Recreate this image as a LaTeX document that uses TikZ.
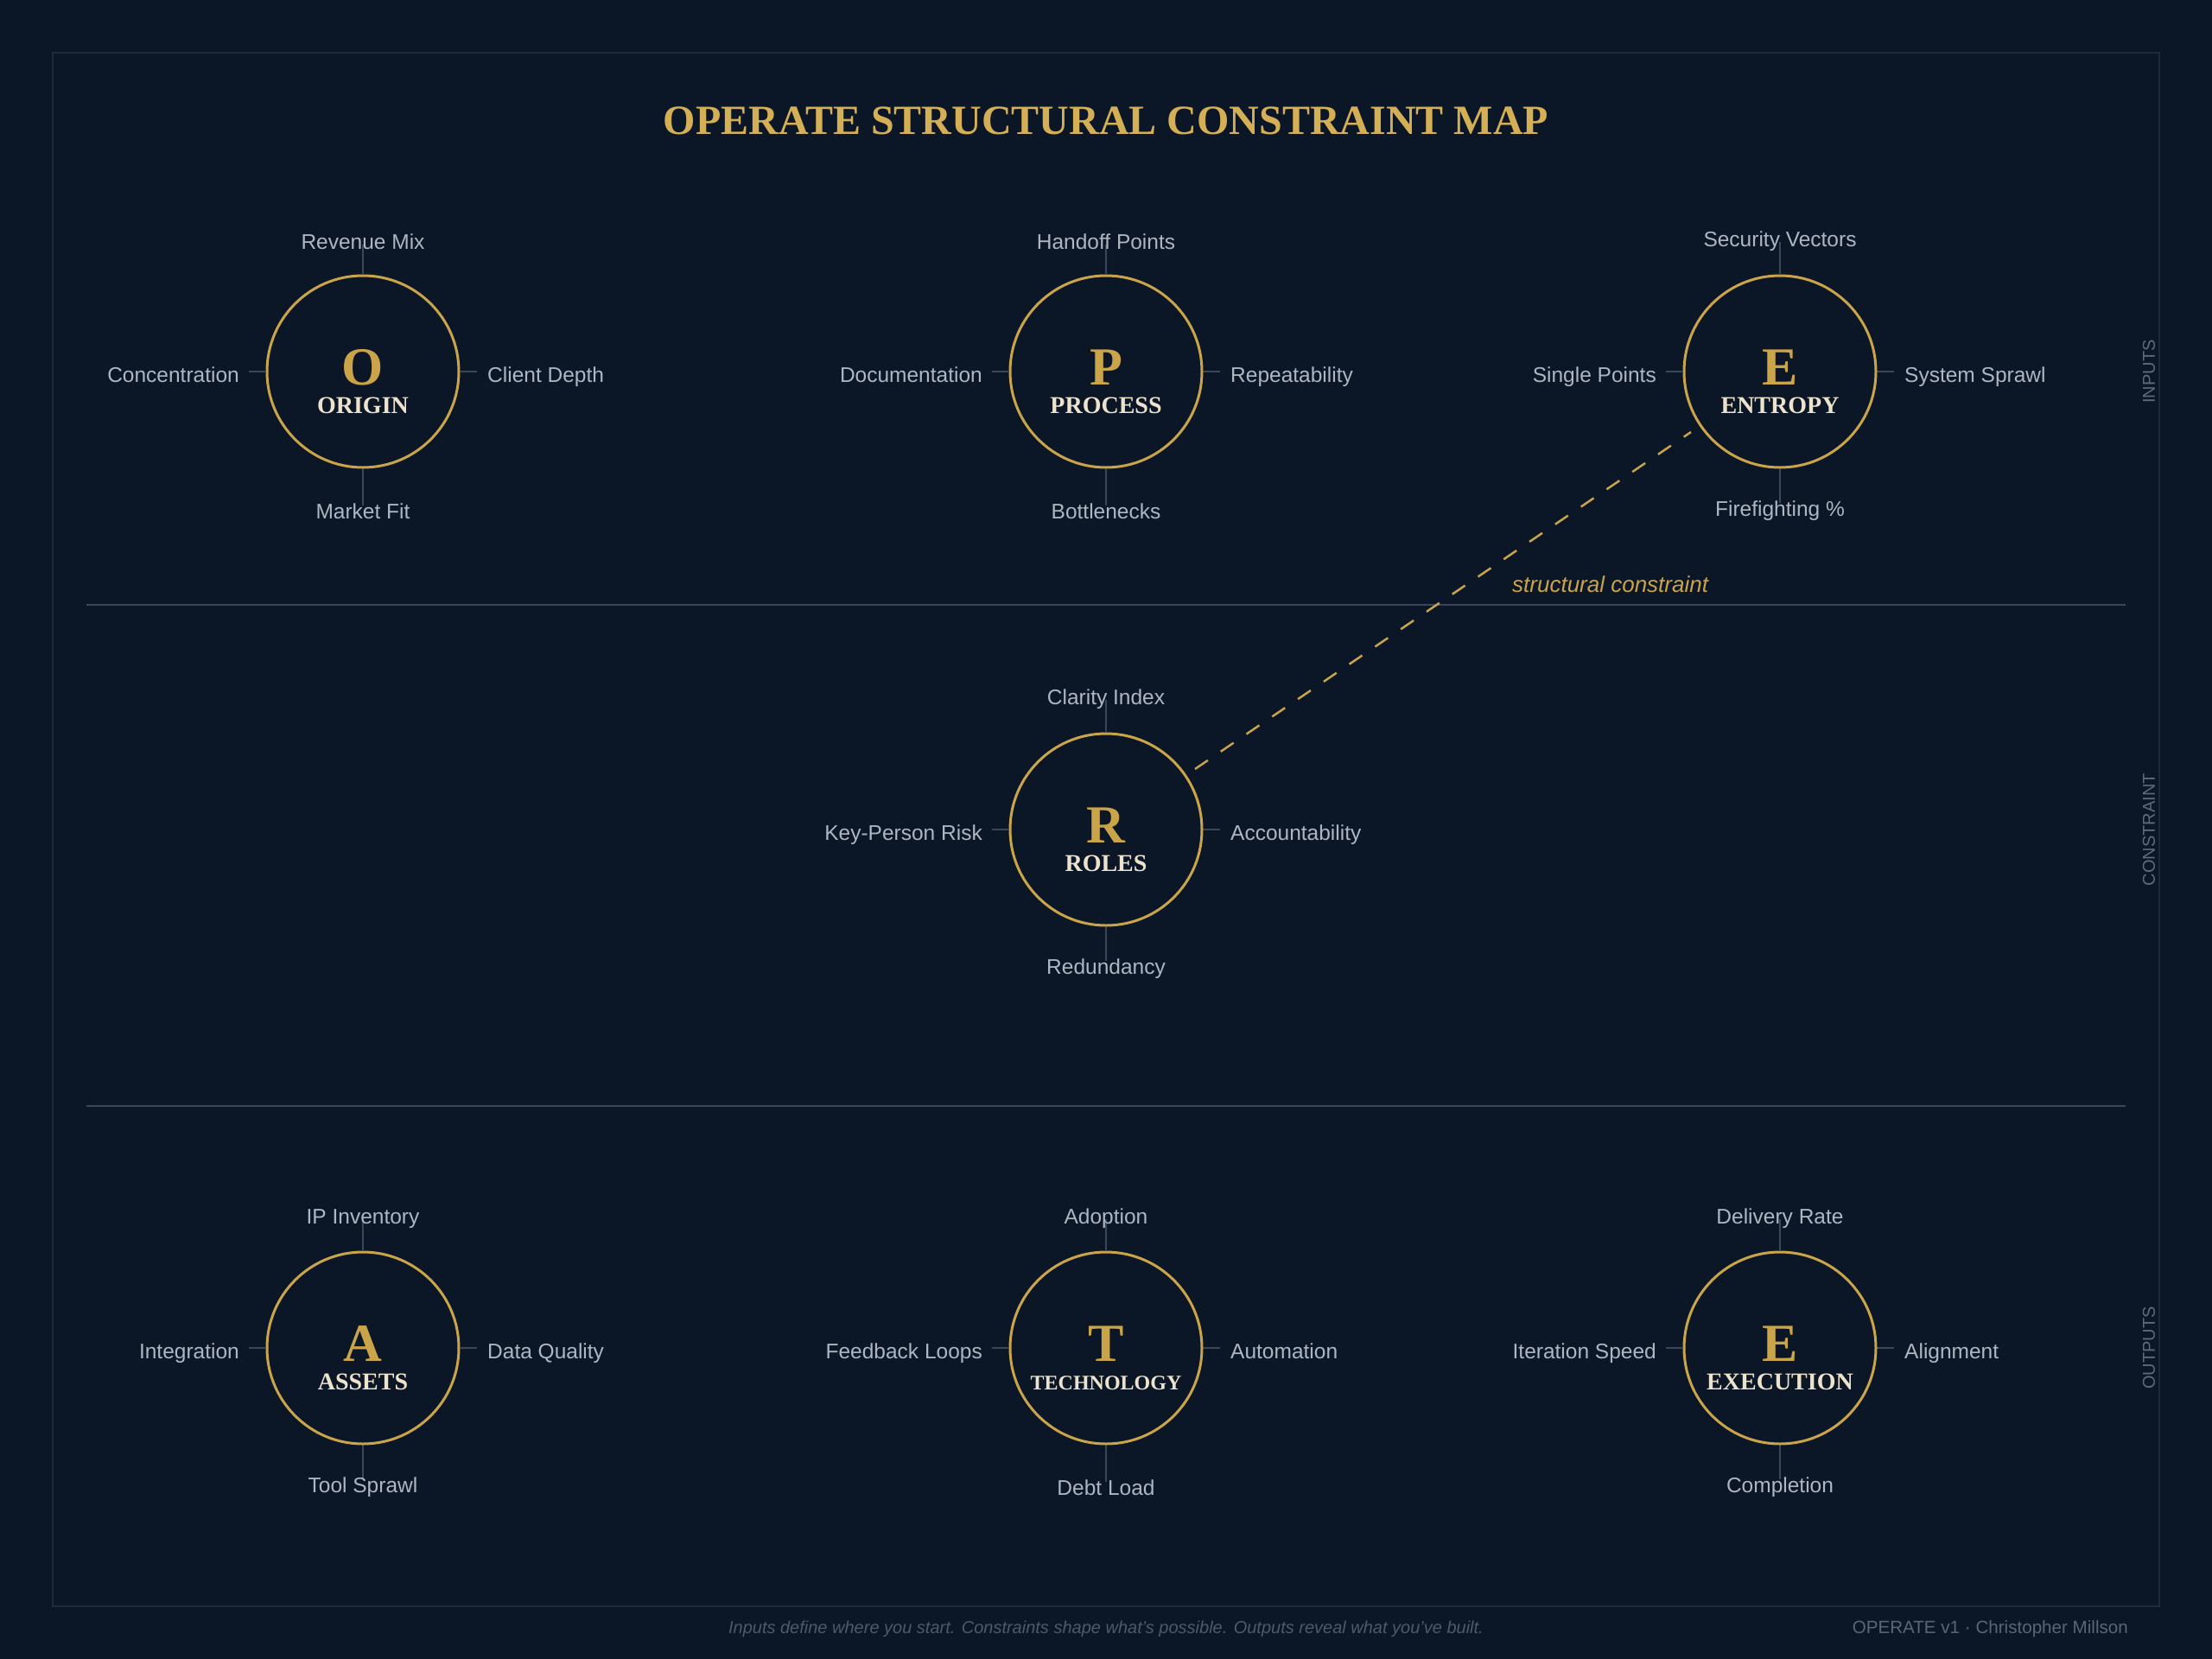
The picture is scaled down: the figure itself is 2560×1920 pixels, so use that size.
\documentclass[tikz,border=0pt]{standalone}
\usepackage{fontspec}
\setmainfont{Liberation Serif}
\setsansfont{Liberation Sans}
\usetikzlibrary{calc}
\definecolor{bg}{HTML}{0B1627}
\definecolor{framec}{HTML}{1F2B3B}
\definecolor{rulec}{HTML}{3A4659}
\definecolor{gold}{HTML}{C9A449}
\definecolor{titlegold}{HTML}{D4AF55}
\definecolor{cream}{HTML}{EDE3CC}
\definecolor{labelgray}{HTML}{AEB6C2}
\definecolor{tickgray}{HTML}{3A4659}
\definecolor{sidegray}{HTML}{5F6B7D}
\definecolor{footgray}{HTML}{5A6577}
\tikzset{
  unitcircle/.style={circle, draw=gold, line width=3pt, minimum size=222pt, inner sep=0pt},
  letterstyle/.style={anchor=base, inner sep=0pt, text=gold, font=\fontsize{62}{62}\selectfont\bfseries},
  namestyle/.style={anchor=base, inner sep=0pt, text=cream, font=\fontsize{28}{28}\selectfont\bfseries},
  dimlabel/.style={inner sep=0pt, text=labelgray, font=\sffamily\fontsize{24.5}{24.5}\selectfont},
  tickline/.style={draw=tickgray, line width=1.5pt},
  sidelabel/.style={rotate=90, inner sep=0pt, text=sidegray, font=\sffamily\fontsize{20}{20}\selectfont},
  dividerline/.style={draw=rulec, line width=2pt},
  constraintline/.style={draw=gold, line width=2.5pt, dash pattern=on 18pt off 18pt, shorten <=12pt, shorten >=12pt},
}
\def\topdy{0}
\def\botdy{0}
\newcommand\opunit[9]{%
  \begin{scope}[shift={(#2,#3)}]
    \node[unitcircle] (#1) at (0,0) {};
    \draw[tickline] (#1.north) -- (0,-147+\topdy) coordinate (#1-tt);
    \draw[tickline] (#1.south) -- (0,155+\botdy) coordinate (#1-bt);
    \draw[tickline] (#1.west) -- (-132,0) coordinate (#1-lt);
    \draw[tickline] (#1.east) -- (132,0) coordinate (#1-rt);
    \node[letterstyle] (#1-letter) at (0,15) {#4};
    \node[namestyle] (#1-name) at (0,48) {#5};
    \node[dimlabel, anchor=base] (#1-top) at (0,-142+\topdy) {#6};
    \node[dimlabel, anchor=base east] (#1-left) at (-143,12.5) {#7};
    \node[dimlabel, anchor=base west] (#1-right) at (144,12.5) {#8};
    \node[dimlabel, anchor=base] (#1-bottom) at (0,170+\botdy) {#9};
  \end{scope}}
\begin{document}
\begin{tikzpicture}[x=1pt, y=-1pt]
  \fill[bg] (0,0) rectangle (2560,1920);
  \useasboundingbox (0,0) rectangle (2560,1920);
  \draw[framec, line width=2pt] (61,61) rectangle (2499,1859);
  \node[anchor=base, inner sep=0pt, text=titlegold, font=\fontsize{48}{48}\selectfont\bfseries] (title) at (1280,155) {OPERATE STRUCTURAL CONSTRAINT MAP};
  \draw[dividerline] (100,700) -- (2460,700);
  \draw[dividerline] (100,1280) -- (2460,1280);
  \opunit{O}{420}{430}{O}{ORIGIN}{Revenue Mix}{Concentration}{Client Depth}{Market Fit}
  \opunit{P}{1280}{430}{P}{PROCESS}{Handoff Points}{Documentation}{Repeatability}{Bottlenecks}
  \def\topdy{-3}\def\botdy{-3}
  \opunit{E1}{2060}{430}{E}{ENTROPY}{Security Vectors}{Single Points}{System Sprawl}{Firefighting \%}
  \def\topdy{-3}\def\botdy{-3}
  \opunit{R}{1280}{960}{R}{ROLES}{Clarity Index}{Key-Person Risk}{Accountability}{Redundancy}
  \def\topdy{-2}\def\botdy{-3}
  \opunit{A}{420}{1560}{A}{ASSETS}{IP Inventory}{Integration}{Data Quality}{Tool Sprawl}
  \def\topdy{-2}\def\botdy{0}
  \opunit{T}{1280}{1560}{T}{{\fontsize{24}{24}\selectfont TECHNOLOGY}}{Adoption}{Feedback Loops}{Automation}{Debt Load}
  \def\topdy{-2}\def\botdy{-3}
  \opunit{E2}{2060}{1560}{E}{EXECUTION}{Delivery Rate}{Iteration Speed}{Alignment}{Completion}
  \draw[constraintline] (R) -- (E1);
  \node[anchor=base west, inner sep=0pt, text=gold, font=\sffamily\itshape\fontsize{26}{26}\selectfont] (sc) at (1750,685) {structural constraint};
  \node[sidelabel] (inputs) at (2487,430) {INPUTS};
  \node[sidelabel] (constraint) at (2487,960) {CONSTRAINT};
  \node[sidelabel] (outputs) at (2487,1560) {OUTPUTS};
  \node[anchor=base, inner sep=0pt, text=footgray!85!bg, font=\sffamily\itshape\fontsize{20}{20}\selectfont] (foot) at (1280,1890) {Inputs define where you start. Constraints shape what's possible. Outputs reveal what you've built.};
  \node[anchor=base east, inner sep=0pt, text=footgray, font=\sffamily\fontsize{20.6}{20.6}\selectfont] (credit) at (2463,1890) {OPERATE v1 · Christopher Millson};
\end{tikzpicture}
\end{document}
